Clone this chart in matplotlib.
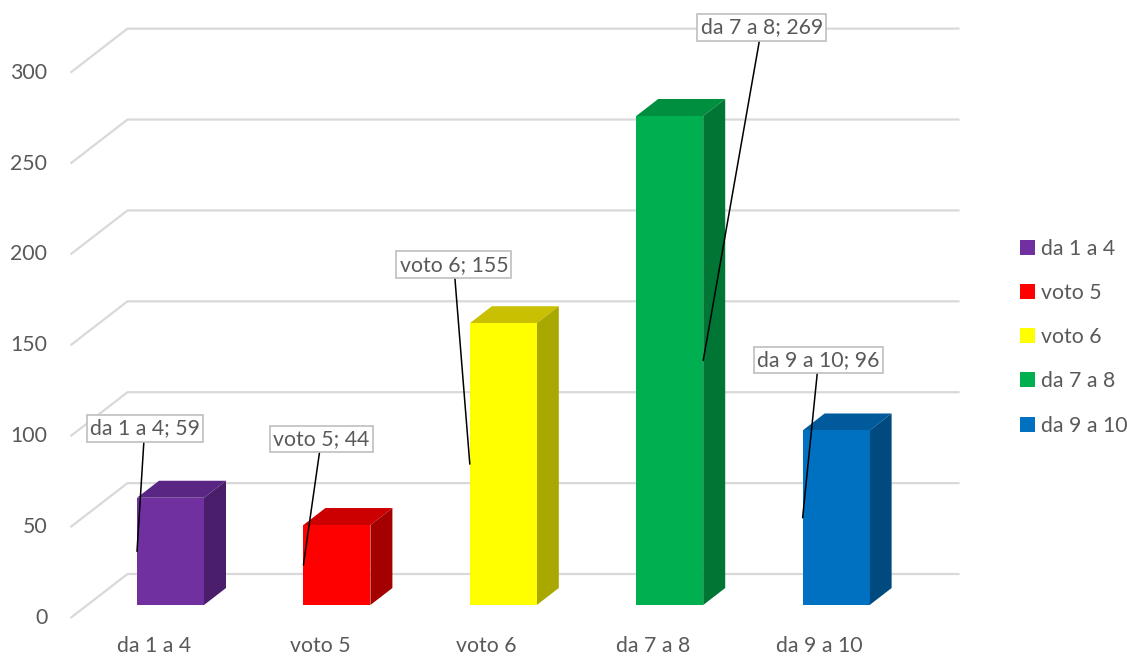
import matplotlib
matplotlib.use("Agg")
import matplotlib.pyplot as plt
from matplotlib.patches import Polygon, Patch
from matplotlib.transforms import offset_copy
import numpy as np

categories = ["da 1 a 4", "voto 5", "voto 6", "da 7 a 8", "da 9 a 10"]
values = [59, 44, 155, 269, 96]
front_colors = ["#7030A0", "#FF0000", "#FFFF00", "#00B050", "#0070C0"]
top_colors = ["#5A2683", "#CC0000", "#C8C000", "#008E3F", "#005A9C"]
side_colors = ["#4A1E6B", "#A50000", "#A8A800", "#007534", "#004A80"]
yticks = [0, 50, 100, 150, 200, 250, 300]

plt.rcParams['font.family'] = ['Lato', 'DejaVu Sans']
FS = 15.3
TXT = "#595959"
GRID = "#D9D9D9"

W, H = 1127, 659
fig = plt.figure(figsize=(W / 100, H / 100), dpi=100)
ax = fig.add_axes([0, 0, 1, 1])
ax.set_xlim(-1.0246, 5.748)
ax.set_ylim(-29.7, 332.8)
ax.axis("off")

# pixel offsets (matplotlib y up)
BACK = (40.2, 31.0)
FRONT = (-16.8, -13.0)
DEPTH = (22.0, 17.0)


def off(x, y, d):
    p = ax.transData.transform((x, y)) + np.array(d)
    return ax.transData.inverted().transform(p)


x = np.arange(len(categories))
bw = 0.4026
x0, x1 = -0.5, 4.5

# gridlines: back wall + left diagonal
for v in yticks:
    a = off(x0, v, FRONT)
    b = off(x0, v, BACK)
    c = off(x1, v, BACK)
    ax.plot([a[0], b[0], c[0]], [a[1], b[1], c[1]], color=GRID, lw=1.6,
            zorder=1, solid_capstyle="butt")
    ax.text(a[0], a[1], str(v), transform=offset_copy(ax.transData, fig, x=-23, y=0, units="dots"),
            ha="right", va="center", fontsize=FS, color=TXT)

# bars
ax.bar(x, values, width=bw, color=front_colors, zorder=3, linewidth=0)
for i, v in enumerate(values):
    l, r = x[i] - bw / 2, x[i] + bw / 2
    top = [(l, v), (r, v), tuple(off(r, v, DEPTH)), tuple(off(l, v, DEPTH))]
    side = [(r, 0), (r, v), tuple(off(r, v, DEPTH)), tuple(off(r, 0, DEPTH))]
    ax.add_patch(Polygon(top, closed=True, facecolor=top_colors[i], edgecolor="none", zorder=2.5))
    ax.add_patch(Polygon(side, closed=True, facecolor=side_colors[i], edgecolor="none", zorder=2.5))

# category labels
for i, c in enumerate(categories):
    ax.text(x[i], 0, c, transform=offset_copy(ax.transData, fig, x=-16.8, y=-41, units="dots"),
            ha="center", va="center", fontsize=FS, color=TXT)

# data labels with leader lines
anchor_side = [-1, -1, -1, 1, -1]
label_offsets = [(7.7, 123), (18, 126), (-16, 199.5), (58.5, 333), (16, 158)]
for i, v in enumerate(values):
    px = x[i] + anchor_side[i] * bw / 2
    ax.annotate(f"{categories[i]}; {v}", xy=(px, v / 2), xytext=label_offsets[i],
                textcoords="offset pixels", ha="center", va="center",
                fontsize=FS, color=TXT, zorder=6,
                bbox=dict(boxstyle="square,pad=0.15", fc="white", ec="#BFBFBF", lw=1.2),
                arrowprops=dict(arrowstyle="-", color="black", lw=1.1,
                                shrinkA=0, shrinkB=0))

handles = [Patch(facecolor=c, edgecolor="none") for c in front_colors]
fig.legend(handles, categories, loc="upper left",
           bbox_to_anchor=(1009 / W, 1 - 228 / H), frameon=False,
           fontsize=FS, labelcolor=TXT, handlelength=0.7, handleheight=0.7,
           handletextpad=0.3, labelspacing=1.14, borderpad=0)

fig.savefig("out.png", dpi=100)
